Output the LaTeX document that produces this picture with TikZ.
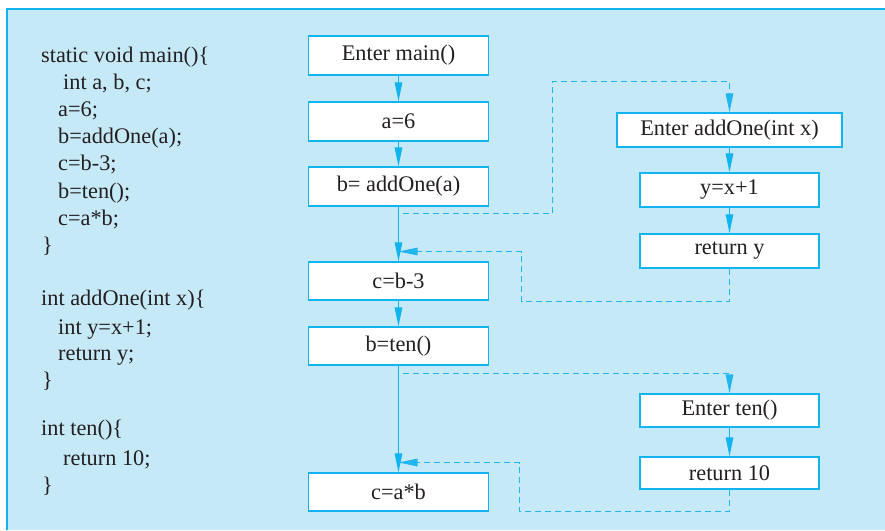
\documentclass[tikz,border=0pt]{standalone}
\usepackage{fontspec}
\setmainfont{Liberation Serif}
\usetikzlibrary{arrows.meta}
\definecolor{bgblue}{HTML}{C6E9F8}
\definecolor{lineblue}{HTML}{10B4EE}
\definecolor{dashblue}{HTML}{22B6EE}
\definecolor{ink}{HTML}{231F20}
\tikzset{
  codeline/.style={anchor=base west, inner sep=0pt, text=ink, font=\fontsize{22.3}{26}\selectfont},
  stepbox/.style={draw=lineblue, line width=1.3pt, fill=white, inner sep=0pt, text=ink,
    font=\fontsize{22.3}{26}\selectfont, minimum width=180pt, minimum height=38pt},
  flow/.style={draw=lineblue, line width=1.2pt, -{Triangle[length=19pt,width=7.5pt]}},
  callflow/.style={draw=dashblue, line width=1.4pt, dash pattern=on 6pt off 4pt, -{Triangle[length=19pt,width=7.5pt]}},
}
\begin{document}
\begin{tikzpicture}[x=1pt,y=-1pt]
\useasboundingbox (0,0) rectangle (885,530);
\fill[bgblue] (6,8) rectangle (885,530);
\draw[lineblue, line width=1.5pt] (6.75,530) -- (6.75,8.75) -- (885,8.75);

% code
\node[codeline] (l1) at (41,62) {static void main()\{};
\node[codeline] (l2) at (63,89) {int a, b, c;};
\node[codeline] (l3) at (58,116) {a=6;};
\node[codeline] (l4) at (58,143) {b=addOne(a);};
\node[codeline] (l5) at (58,170) {c=b-3;};
\node[codeline] (l6) at (58,198) {b=ten();};
\node[codeline] (l7) at (58,225) {c=a*b;};
\node[codeline] (l8) at (42,252) {\}};
\node[codeline] (l9) at (41,305) {int addOne(int x)\{};
\node[codeline] (l10) at (58,334) {int y=x+1;};
\node[codeline] (l11) at (58,360) {return y;};
\node[codeline] (l12) at (42,387) {\}};
\node[codeline] (l13) at (41,435) {int ten()\{};
\node[codeline] (l14) at (63,465) {return 10;};
\node[codeline] (l15) at (42,492) {\}};

% main flow
\node[stepbox, minimum height=39pt] (m0) at (398.5,55.5) {Enter main()};
\node[stepbox, minimum height=39pt] (m1) at (398.5,121.5) {a=6};
\node[stepbox, minimum height=39pt] (m2) at (398.5,186.5) {b= addOne(a)};
\node[stepbox] (m3) at (398.5,281) {c=b-3};
\node[stepbox] (m4) at (398.5,346) {b=ten()};
\node[stepbox] (m5) at (398.5,492) {c=a*b};

% addOne
\node[stepbox, minimum width=225pt, minimum height=34pt] (f0) at (729.5,130) {Enter addOne(int x)};
\node[stepbox, minimum width=179pt, minimum height=34pt] (f1) at (729.5,190) {y=x+1};
\node[stepbox, minimum width=179pt, minimum height=34pt] (f2) at (729.5,251) {return y};

% ten
\node[stepbox, minimum width=179pt, minimum height=33pt] (t0) at (729.5,410.5) {Enter ten()};
\node[stepbox, minimum width=179pt, minimum height=32pt] (t1) at (729.5,473) {return 10};

\draw[flow] (m0) -- (m1);
\draw[flow] (m1) -- (m2);
\draw[flow] (m2) -- (m3);
\draw[flow] (m3) -- (m4);
\draw[flow] (m4) -- (m5);
\draw[flow] (f0) -- (f1);
\draw[flow] (f1) -- (f2);
\draw[flow] (t0) -- (t1);

\coordinate (c1) at (403,213.5);
\coordinate (k1) at (552.5,81.5);
\coordinate (r1) at (521.5,301.5);
\coordinate (j1) at (398.5,251.5);
\coordinate (c2) at (403,373.5);
\coordinate (r2) at (519.5,511.5);
\coordinate (j2) at (398.5,462.5);

\draw[callflow] (c1) -| (k1) -| (f0.north);
\draw[callflow] (f2.south) |- (r1) |- (j1);
\draw[callflow] (c2) -| (t0.north);
\draw[callflow] (t1.south) |- (r2) |- (j2);
\end{tikzpicture}
\end{document}
